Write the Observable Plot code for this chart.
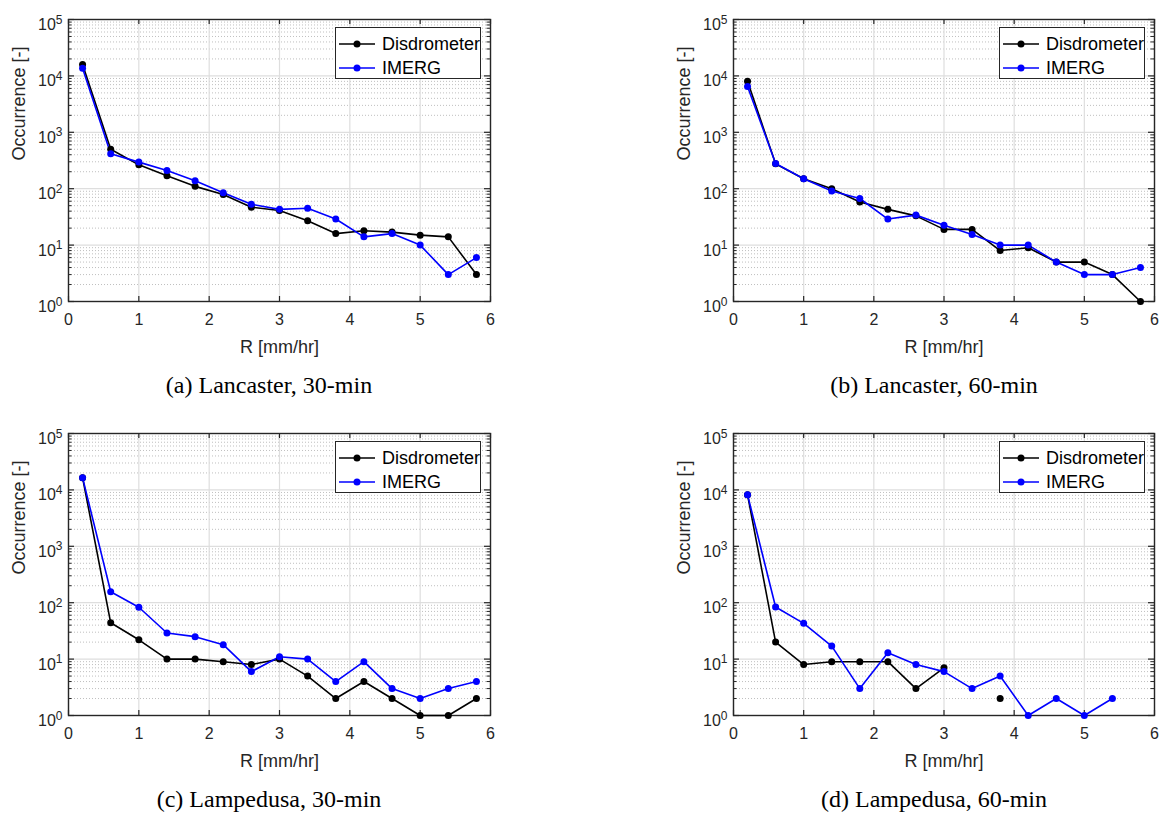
<!DOCTYPE html>
<html>
<head>
<meta charset="utf-8">
<script src="https://cdn.jsdelivr.net/npm/d3@7"></script>
<script src="https://cdn.jsdelivr.net/npm/@observablehq/plot@0.6"></script>
<style>
  html, body { margin: 0; padding: 0; background: #fff; }
  #root { position: relative; width: 1161px; height: 814px; overflow: hidden; background: #fff;
          font-family: "Liberation Sans", Arial, Helvetica, sans-serif; }
  .panel { position: absolute; }
  .caption { position: absolute; font-family: "Liberation Serif", "Times New Roman", serif; font-size: 24px;
             color: #000; white-space: nowrap; transform: translate(-50%, -50%); }
  .legend { position: absolute; box-sizing: border-box; border: 1.4px solid #262626; background: #fff; }
  .legend .row { position: absolute; left: 0; height: 24px; display: flex; align-items: center; }
  .legend .row span { font-size: 18px; color: #000; margin-left: 3px; line-height: 1; }
</style>
</head>
<body>
<div id="root"></div>
<script>
// ---------------- data ----------------
const R = [0.2, 0.6, 1.0, 1.4, 1.8, 2.2, 2.6, 3.0, 3.4, 3.8, 4.2, 4.6, 5.0, 5.4, 5.8];
const seriesNames = ["Disdrometer", "IMERG"];
const seriesColors = ["#000000", "#0000ff"];

const lanc30Disdrometer = [16000, 500, 265, 170, 110, 79, 47, 41, 27, 16, 18, 17, 15, 14, 3];
const lanc30IMERG       = [13600, 415, 296, 211, 138, 85, 53, 43, 45, 29, 14, 16, 10, 3, 6];
const lanc60Disdrometer = [8000, 276, 150, 100, 58, 43, 33, 19, 19, 8, 9, 5, 5, 3, 1];
const lanc60IMERG       = [6500, 280, 150, 91, 67, 29, 34, 22.5, 15.4, 10, 10, 5, 3, 3, 4];
const lamp30Disdrometer = [16500, 44, 22, 10, 10, 9, 8, 10, 5, 2, 4, 2, 1, 1, 2];
const lamp30IMERG       = [16500, 156, 83, 29, 25, 18, 6, 11, 10, 4, 9, 3, 2, 3, 4];
const lamp60Disdrometer = [8200, 20, 8, 9, 9, 9, 3, 7, null, 2, null, null, null, null, null];
const lamp60IMERG       = [8200, 84, 43, 17, 3, 13, 8, 6, 3, 5, 1, 2, 1, 2, null];

const xTicks = [0, 1, 2, 3, 4, 5, 6];
const yTicks = [1, 10, 100, 1000, 10000, 100000];
const xLabel = "R [mm/hr]";
const yLabel = "Occurrence [-]";
const captions = ["(a) Lancaster, 30-min", "(b) Lancaster, 60-min", "(c) Lampedusa, 30-min", "(d) Lampedusa, 60-min"];

const yMinor = yTicks.slice(0, -1).flatMap(d => [2, 3, 4, 5, 6, 7, 8, 9].map(k => k * d));

// ---------------- layout ----------------
const panels = [
  {dis: lanc30Disdrometer, im: lanc30IMERG, left: 0,   top: 0,   pw: 422, cap: 269},
  {dis: lanc60Disdrometer, im: lanc60IMERG, left: 665, top: 0,   pw: 421, cap: 934},
  {dis: lamp30Disdrometer, im: lamp30IMERG, left: 0,   top: 414, pw: 422, cap: 269},
  {dis: lamp60Disdrometer, im: lamp60IMERG, left: 665, top: 414, pw: 421, cap: 934}
];
const W = 496, H = 370, ML = 68, MT = 19, PH = 282;
const root = document.getElementById("root");
const font = "'Liberation Sans', Arial, Helvetica, sans-serif";
const axisColor = "#262626";

panels.forEach((p, idx) => {
  const rows = [];
  [p.dis, p.im].forEach((vals, si) => {
    R.forEach((r, j) => rows.push({series: seriesNames[si], R: r, n: vals[j]}));
  });
  const chart = Plot.plot({
    width: W, height: H,
    marginLeft: ML, marginTop: MT, marginRight: W - ML - p.pw, marginBottom: H - MT - PH,
    style: {fontFamily: font, background: "transparent", color: axisColor, overflow: "visible"},
    x: {domain: [0, 6], label: null},
    y: {type: "log", domain: [1, 1e5], label: null},
    color: {domain: seriesNames, range: seriesColors},
    marks: [
      Plot.gridY(yMinor, {stroke: "#b8b8b8", strokeOpacity: 1, strokeWidth: 0.9, strokeDasharray: "1,2"}),
      Plot.gridY(yTicks, {stroke: "#dedede", strokeOpacity: 1, strokeWidth: 1.2}),
      Plot.gridX(xTicks, {stroke: "#dedede", strokeOpacity: 1, strokeWidth: 1.2}),
      // inward tick marks on all four sides
      Plot.tickY(yTicks, {stroke: axisColor, strokeWidth: 1.2, insetRight: p.pw - 6}),
      Plot.tickY(yTicks, {stroke: axisColor, strokeWidth: 1.2, insetLeft: p.pw - 6}),
      Plot.tickY(yMinor, {stroke: axisColor, strokeWidth: 1, insetRight: p.pw - 3.5}),
      Plot.tickY(yMinor, {stroke: axisColor, strokeWidth: 1, insetLeft: p.pw - 3.5}),
      Plot.tickX(xTicks, {stroke: axisColor, strokeWidth: 1.2, insetTop: PH - 5}),
      Plot.tickX(xTicks, {stroke: axisColor, strokeWidth: 1.2, insetBottom: PH - 5}),
      Plot.frame({stroke: axisColor, strokeWidth: 1.4}),
      Plot.axisX(xTicks, {tickSize: 0, tickPadding: 12, fontSize: 16, tickFormat: d => String(d), label: null}),
      Plot.axisY(yTicks, {tickSize: 0, tickPadding: 6, fontSize: 16,
                          tickFormat: d => String(Math.round(Math.log10(d))), label: null}),
      Plot.text([xLabel], {frameAnchor: "bottom", dy: 46, fontSize: 18, fill: axisColor, lineAnchor: "middle"}),
      Plot.text([yLabel], {frameAnchor: "left", dx: -49, rotate: -90, fontSize: 18, fill: axisColor}),
      Plot.line(rows, {x: "R", y: "n", z: "series", stroke: "series", strokeWidth: 1.6}),
      Plot.dot(rows, {x: "R", y: "n", fill: "series", r: 3.5})
    ]
  });
  // superscript exponents on the log-axis tick labels
  chart.querySelectorAll('g[aria-label="y-axis tick label"] text').forEach(t => {
    const e = t.textContent;
    t.textContent = "";
    t.setAttribute("y", "0");
    const base = document.createElementNS("http://www.w3.org/2000/svg", "tspan");
    base.setAttribute("dy", "10.5");
    base.textContent = "10";
    const sup = document.createElementNS("http://www.w3.org/2000/svg", "tspan");
    sup.setAttribute("dy", "-6.5");
    sup.setAttribute("font-size", "12");
    sup.textContent = e;
    t.appendChild(base);
    t.appendChild(sup);
  });
  const holder = document.createElement("div");
  holder.className = "panel";
  holder.style.left = p.left + "px";
  holder.style.top = p.top + "px";
  holder.appendChild(chart);
  root.appendChild(holder);

  // legend
  const lg = document.createElement("div");
  lg.className = "legend";
  const lgW = 146, lgH = 52;
  lg.style.width = lgW + "px";
  lg.style.height = lgH + "px";
  lg.style.left = (p.left + ML + p.pw - 9 - lgW) + "px";
  lg.style.top = (p.top + MT + 8) + "px";
  seriesNames.forEach((s, i) => {
    const row = document.createElement("div");
    row.className = "row";
    row.style.top = (4 + i * 24) + "px";
    row.innerHTML = `<svg width="40" height="12" style="margin-left:3px"><line x1="0" x2="36" y1="6" y2="6" stroke="${seriesColors[i]}" stroke-width="1.6"/><circle cx="18" cy="6" r="3.5" fill="${seriesColors[i]}"/></svg><span>${s}</span>`;
    lg.appendChild(row);
  });
  root.appendChild(lg);

  const cap = document.createElement("div");
  cap.className = "caption";
  cap.style.left = p.cap + "px";
  cap.style.top = (p.top + 385) + "px";
  cap.textContent = captions[idx];
  root.appendChild(cap);
});
</script>
</body>
</html>
